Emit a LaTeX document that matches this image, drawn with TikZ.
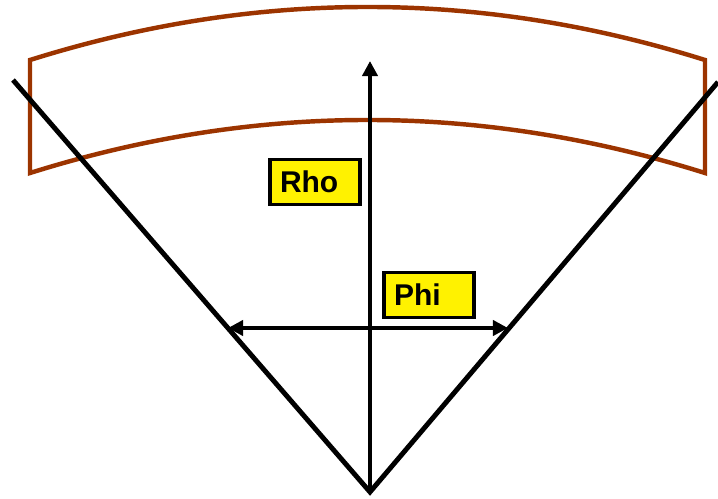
\documentclass[tikz,border=0pt]{standalone}
\usepackage{fontspec}
\setmainfont{Liberation Sans}
\usepackage{tikz}
\usetikzlibrary{arrows.meta,positioning}
\definecolor{ringbrown}{RGB}{156,52,0}

\begin{document}
\begin{tikzpicture}[
  x=0.03cm, y=-0.03cm,
  ring/.style={draw=ringbrown, line width=3.8pt},
  edge/.style={line width=4.2pt},
  arr/.style={-{Triangle[length=13pt,width=13pt]}, line width=4.2pt},
  darr/.style={{Triangle[length=13pt,width=13pt]}-{Triangle[length=13pt,width=13pt]}, line width=4.2pt},
  lab/.style={draw, line width=3.2pt, fill=yellow, font=\fontsize{25.6}{30}\selectfont\bfseries,
              minimum width=2.7cm, minimum height=1.35cm, inner xsep=0.3cm,
              text width=2.1cm, align=left},
]
\useasboundingbox (0,0) rectangle (718,499);

% ---- Ring segment ----------------------------------------------------------
\draw[ring] (30,60) .. controls (255,-10.7) and (480,-10.7) .. (705,60) -- (705,173)
  .. controls (480,102.3) and (255,102.3) .. (30,173) -- cycle;

% ---- Sector edges ----------------------------------------------------------
\coordinate (apex) at (370,492);
\coordinate (lend) at (13,80);
\coordinate (rend) at (718,82);
\draw[edge] (lend) -- (apex) -- (rend);

% ---- Rho direction ---------------------------------------------------------
\coordinate (rtop) at (370,61);
\draw[arr] (apex) -- (rtop);
\node[lab] (rho) at (315,182) {Rho};

% ---- Phi direction ---------------------------------------------------------
\coordinate (pleft) at (228,328);
\coordinate (pright) at (508,328);
\draw[darr] (pleft) -- (pright);
\node[lab] (phi) at (429,295) {Phi};

\end{tikzpicture}
\end{document}
